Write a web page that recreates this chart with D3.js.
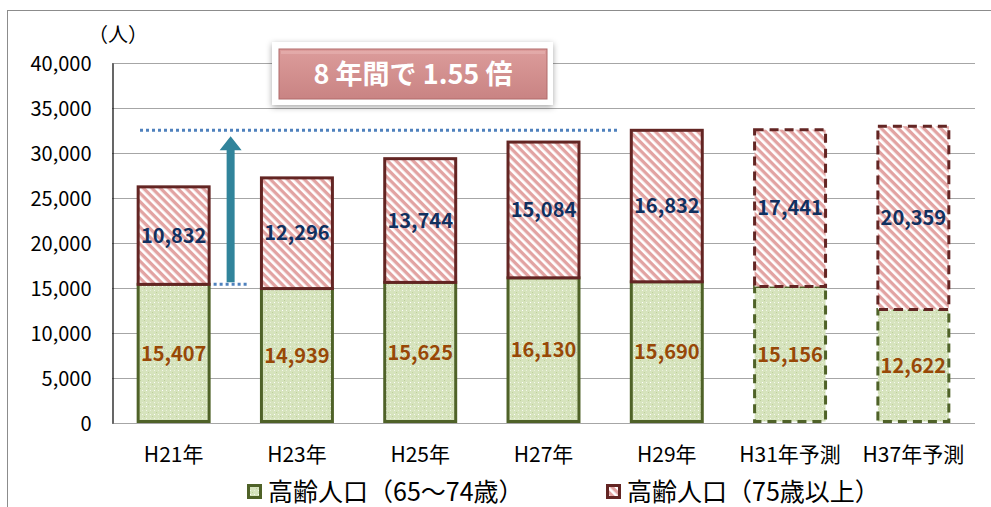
<!DOCTYPE html>
<html><head><meta charset="utf-8">
<script src="https://cdn.jsdelivr.net/npm/d3@7"></script>
<style>
html,body{margin:0;padding:0;background:#fff;}
svg{display:block;}
text{font-family:"Noto Sans CJK JP","Noto Sans",sans-serif;}
</style></head>
<body>
<svg id="c" width="991" height="507"></svg>
<script>
const categories = ["H21年","H23年","H25年","H27年","H29年","H31年予測","H37年予測"];
const young = [15407,14939,15625,16130,15690,15156,12622];   // 65〜74歳
const old   = [10832,12296,13744,15084,16832,17441,20359];   // 75歳以上
const projected = [false,false,false,false,false,true,true];
const yTicks = [0,5000,10000,15000,20000,25000,30000,35000,40000];
const seriesNames = ["高齢人口（65〜74歳）","高齢人口（75歳以上）"];
const bannerText = "8 年間で 1.55 倍";

(function(){
const svg = d3.select("#c");
const defs = svg.append("defs");

// green dotted pattern
const pg = defs.append("pattern").attr("id","pGreen").attr("patternUnits","userSpaceOnUse")
  .attr("width",8).attr("height",8);
pg.append("rect").attr("width",8).attr("height",8).attr("fill","#d6e3bd");
pg.append("rect").attr("x",0).attr("y",0).attr("width",1).attr("height",1).attr("fill","#bfd09a");
pg.append("rect").attr("x",4).attr("y",4).attr("width",1).attr("height",1).attr("fill","#bfd09a");
pg.append("rect").attr("x",2).attr("y",2).attr("width",1).attr("height",1).attr("fill","#f4f8ec");
pg.append("rect").attr("x",6).attr("y",6).attr("width",1).attr("height",1).attr("fill","#f4f8ec");
pg.append("rect").attr("x",2).attr("y",6).attr("width",1).attr("height",1).attr("fill","#ffffff");
pg.append("rect").attr("x",6).attr("y",2).attr("width",1).attr("height",1).attr("fill","#e9f0da");

// red diagonal stripes (downward diagonal)
const pr = defs.append("pattern").attr("id","pRed").attr("patternUnits","userSpaceOnUse")
  .attr("width",6).attr("height",6).attr("patternTransform","rotate(45)");
pr.append("rect").attr("width",6).attr("height",6).attr("fill","#ffffff");
pr.append("rect").attr("width",6).attr("height",3.3).attr("fill","#e2a3a2");

// banner gradient
const lg = defs.append("linearGradient").attr("id","gBanner").attr("x1",0).attr("y1",0).attr("x2",0).attr("y2",1);
lg.append("stop").attr("offset","0%").attr("stop-color","#dc9c9b");
lg.append("stop").attr("offset","100%").attr("stop-color","#c98383");
const f = defs.append("filter").attr("id","shadow").attr("x","-10%").attr("y","-20%").attr("width","120%").attr("height","150%");
f.append("feDropShadow").attr("dx",0).attr("dy",2).attr("stdDeviation",3).attr("flood-color","#000").attr("flood-opacity",0.35);

// outer frame
svg.append("rect").attr("x",7.5).attr("y",10.5).attr("width",1000).attr("height",520)
  .attr("fill","none").attr("stroke","#8c8c8c").attr("stroke-width",1);

const pL=112, pR=975, pT=63, pB=423;
const x = d3.scaleBand().domain(categories).range([pL,pR]).paddingInner(0.4).paddingOuter(0.2);
const y = d3.scaleLinear().domain([0,40000]).range([pB,pT]);

// gridlines
svg.append("g").selectAll("line").data(yTicks).join("line")
  .attr("x1",pL).attr("x2",pR).attr("y1",d=>Math.round(y(d))+0.5).attr("y2",d=>Math.round(y(d))+0.5)
  .attr("stroke","#a6a6a6").attr("stroke-width",1.2);

// y axis
const yAxis = d3.axisLeft(y).tickValues(yTicks).tickSize(0).tickPadding(0).tickFormat(d3.format(","));
const gy = svg.append("g").attr("transform",`translate(${pL+0.5},0)`).call(yAxis);
gy.select(".domain").attr("stroke","#000").attr("stroke-width",1.2);
gy.selectAll("text").attr("x",-21).attr("dy","0.35em").attr("font-size",20)
  .attr("font-family","'Noto Sans','Open Sans',sans-serif").attr("fill","#000");

// x axis
const xAxis = d3.axisBottom(x).tickSize(0).tickPadding(0);
const gx = svg.append("g").attr("transform",`translate(0,${pB})`).call(xAxis);
gx.select(".domain").remove();
gx.selectAll("text").attr("y",39).attr("dy","0").attr("font-size",21).attr("fill","#000")
  .attr("font-family","'Noto Sans CJK JP',sans-serif");

svg.append("text").attr("x",88).attr("y",42).attr("font-size",20).text("（人）");

// bars
const data = categories.map((c,i)=>({c, a:young[i], b:old[i], p:projected[i]}));
const bw = x.bandwidth();
const g = svg.append("g");
g.selectAll("rect.g").data(data).join("rect").attr("class","g")
  .attr("x",d=>x(d.c)+1.5).attr("width",bw-3)
  .attr("y",d=>y(d.a)).attr("height",d=>y(0)-y(d.a)-1.5)
  .attr("fill","url(#pGreen)").attr("stroke","#4f6228").attr("stroke-width",3)
  .attr("stroke-dasharray",d=>d.p?"9,6":null);
g.selectAll("rect.r").data(data).join("rect").attr("class","r")
  .attr("x",d=>x(d.c)+1.5).attr("width",bw-3)
  .attr("y",d=>y(d.a+d.b)).attr("height",d=>y(d.a)-y(d.a+d.b))
  .attr("fill","url(#pRed)").attr("stroke","#632523").attr("stroke-width",3)
  .attr("stroke-dasharray",d=>d.p?"9,6":null);

// labels
const lblFont="'Noto Sans','Open Sans',sans-serif";
g.selectAll("text.lg").data(data).join("text").attr("class","lg")
  .attr("x",d=>x(d.c)+bw/2).attr("y",d=>y(d.a/2)).attr("dy","0.35em")
  .attr("text-anchor","middle").attr("font-size",20).attr("font-weight","bold")
  .attr("font-family",lblFont).attr("fill","#984807").text(d=>d3.format(",")(d.a));
g.selectAll("text.lr").data(data).join("text").attr("class","lr")
  .attr("x",d=>x(d.c)+bw/2).attr("y",d=>y(d.a+d.b/2)).attr("dy","0.35em")
  .attr("text-anchor","middle").attr("font-size",20).attr("font-weight","bold")
  .attr("font-family",lblFont).attr("fill","#10305f").text(d=>d3.format(",")(d.b));

// dotted reference lines
const ref0 = young[0], ref1 = young[4]+old[4];
svg.append("line").attr("x1",140).attr("x2",x(categories[4])-12).attr("y1",y(ref1)).attr("y2",y(ref1))
  .attr("stroke","#4f81bd").attr("stroke-width",3).attr("stroke-dasharray","3,3");
svg.append("line").attr("x1",x(categories[0])+bw+3).attr("x2",x(categories[0])+bw+38).attr("y1",y(ref0)).attr("y2",y(ref0))
  .attr("stroke","#4f81bd").attr("stroke-width",3).attr("stroke-dasharray","3,3");

// arrow
const ax = x(categories[0])+bw+20;
const ay0 = y(ref0)-2, ay1 = y(ref1)+6;
svg.append("path").attr("d",
  `M${ax-4},${ay0} L${ax-4},${ay1+14} L${ax-11},${ay1+14} L${ax},${ay1} L${ax+11},${ay1+14} L${ax+4},${ay1+14} L${ax+4},${ay0} Z`)
  .attr("fill","#31849b");

// banner
svg.append("rect").attr("x",272).attr("y",42).attr("width",281).attr("height",63)
  .attr("fill","#fff").attr("filter","url(#shadow)");
svg.append("rect").attr("x",279).attr("y",49).attr("width",268).attr("height",50)
  .attr("fill","url(#gBanner)").attr("stroke","#b06a6a").attr("stroke-width",1);
svg.append("rect").attr("x",281).attr("y",51).attr("width",264).attr("height",3).attr("fill","#e8b4b3").attr("opacity",0.6);
svg.append("text").attr("x",413).attr("y",75).attr("dy","0.35em").attr("text-anchor","middle")
  .attr("font-size",27).attr("font-weight","bold").attr("fill","#fff").text(bannerText);

// legend
const leg = svg.append("g");
const legItems = [{x:247, fill:"url(#pGreen)", stroke:"#4f6228", t:seriesNames[0]},
                  {x:606, fill:"url(#pRed)", stroke:"#632523", t:seriesNames[1]}];
legItems.forEach(it=>{
  leg.append("rect").attr("x",it.x+1.5).attr("y",485.5).attr("width",12).attr("height",12)
    .attr("fill",it.fill).attr("stroke",it.stroke).attr("stroke-width",3);
  leg.append("text").attr("x",it.x+21).attr("y",492).attr("dy","0.35em").attr("font-size",25)
    .attr("fill","#000").text(it.t);
});
})();
</script>
</body></html>
